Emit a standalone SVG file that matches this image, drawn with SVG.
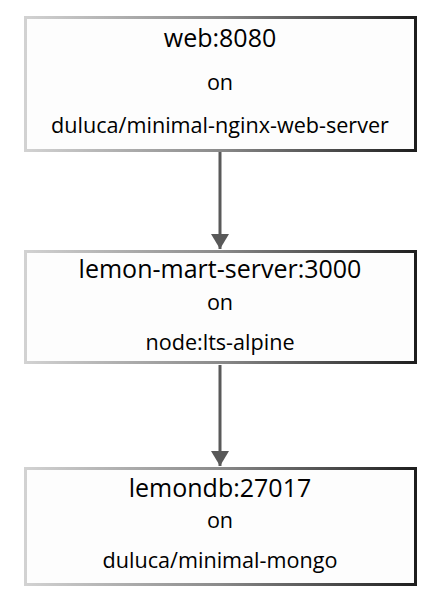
<svg xmlns="http://www.w3.org/2000/svg" width="440" height="606" viewBox="0 0 440 606">
<style>
.box{fill:#fdfdfd;stroke:url(#bg);stroke-width:3}
.t{font-family:"Open Sans","Liberation Sans",sans-serif;fill:#000;text-anchor:middle}
.h{font-size:25px}
.s{font-size:21.6px}
.c{stroke:#595959;stroke-width:3;fill:none}
</style>
<defs>
<linearGradient id="bg" x1="0" y1="0" x2="1" y2="0">
<stop offset="0" stop-color="#d2d2d2"/>
<stop offset="0.5" stop-color="#8a8a8a"/>
<stop offset="1" stop-color="#1e1e1e"/>
</linearGradient>
<marker id="ah" markerWidth="6" markerHeight="6" refX="5" refY="3" orient="auto" markerUnits="strokeWidth" viewBox="0 0 6 6">
<path d="M0,0 L5,3 L0,6 z" fill="#595959"/>
</marker>
</defs>
<g id="connectors">
<line class="c" x1="220" y1="152" x2="220" y2="249" marker-end="url(#ah)"/>
<line class="c" x1="220" y1="365" x2="220" y2="466" marker-end="url(#ah)"/>
</g>
<g id="web">
<rect class="box" x="25.5" y="17.5" width="390" height="133"/>
<text class="t h" x="220" y="47">web:8080</text>
<text class="t s" x="220" y="90">on</text>
<text class="t s" x="220" y="133">duluca/minimal-nginx-web-server</text>
</g>
<g id="server">
<rect class="box" x="25.5" y="251.5" width="390" height="111"/>
<text class="t h" x="220" y="278">lemon-mart-server:3000</text>
<text class="t s" x="220" y="310">on</text>
<text class="t s" x="220" y="350">node:lts-alpine</text>
</g>
<g id="db">
<rect class="box" x="25.5" y="468.5" width="390" height="116"/>
<text class="t h" x="220" y="497">lemondb:27017</text>
<text class="t s" x="220" y="528">on</text>
<text class="t s" x="220" y="568">duluca/minimal-mongo</text>
</g>
</svg>
